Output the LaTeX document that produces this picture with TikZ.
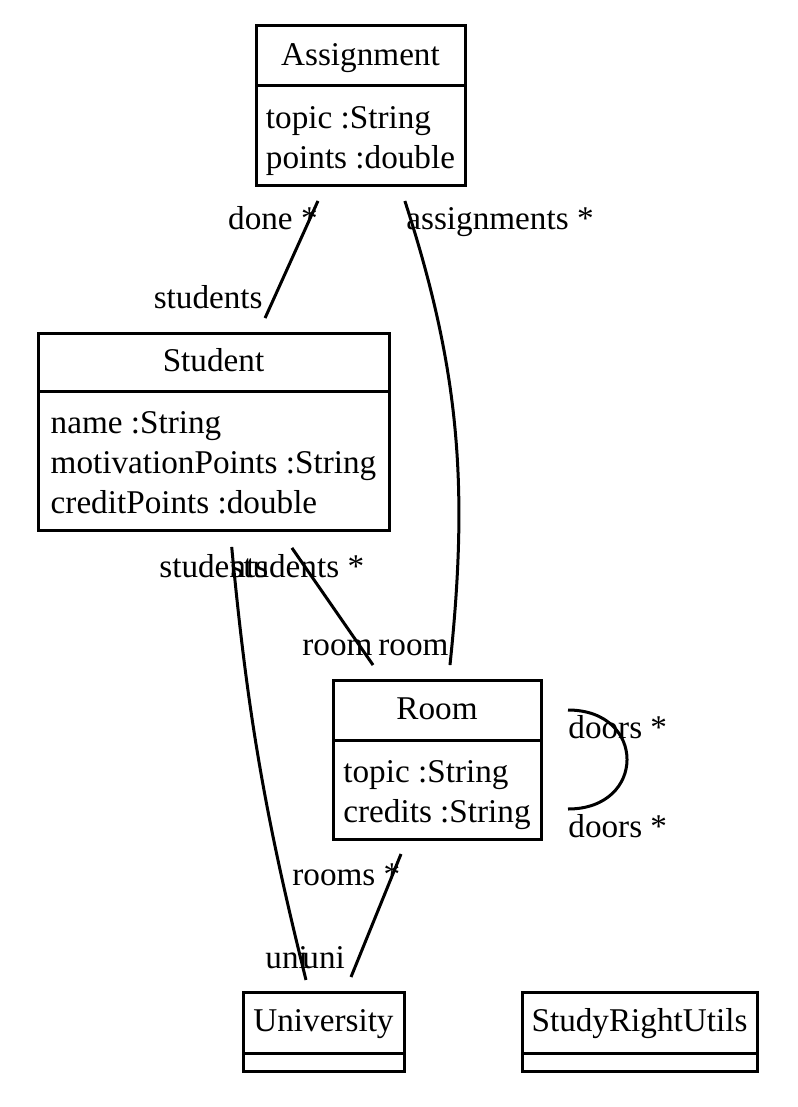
\documentclass[tikz,border=0pt]{standalone}
\usepackage{fontspec}
\setmainfont{Liberation Serif}
\usetikzlibrary{positioning}

\newcommand{\classtop}{\rule{0pt}{16.3pt}}
\newcommand{\classbot}{\rule[-3.7pt]{0pt}{3.7pt}}

\tikzset{
  classhead/.style={draw, line width=1.5pt, inner sep=0pt, outer sep=0pt, text height=11.3pt, text depth=2pt},
  classbody/.style={draw, line width=1.5pt, inner sep=0pt, outer sep=0pt, align=left},
  rolename/.style={inner sep=0pt},
  assoc/.style={line width=1.5pt},
}

\begin{document}
\begin{tikzpicture}[x=0.5pt, y=-0.5pt, font=\fontsize{16.6}{20}\selectfont]

\useasboundingbox (0,0) rectangle (797,1107);

% Classes
\node[classhead, minimum width=104.5pt, minimum height=30pt] (assignT) at (360.5,56) {Assignment};
\node[classbody, minimum width=104.5pt, minimum height=50pt, below=0pt of assignT] (assign) {\classtop topic :String\\points :double\classbot};

\node[classhead, minimum width=175.5pt, minimum height=29pt] (studT) at (213.5,362) {Student};
\node[classbody, minimum width=175.5pt, minimum height=69.5pt, below=0pt of studT] (stud) {\classtop name :String\\motivationPoints :String\\creditPoints :double\classbot};

\node[classhead, minimum width=104pt, minimum height=30pt] (roomT) at (437,710) {Room};
\node[classbody, minimum width=104pt, minimum height=49.5pt, below=0pt of roomT] (room) {\classtop topic :String\\credits :String\classbot};

\node[classhead, minimum width=80.5pt, minimum height=30.5pt] (univT) at (323.5,1022.5) {University};
\node[classbody, minimum width=80.5pt, minimum height=9pt, below=0pt of univT] (univ) {};

\node[classhead, minimum width=117.5pt, minimum height=30.5pt] (utilsT) at (639.5,1022.5) {StudyRightUtils};
\node[classbody, minimum width=117.5pt, minimum height=9pt, below=0pt of utilsT] (utils) {};

% Associations
\draw[assoc, shorten <=8.2pt, shorten >=8.2pt] ([xshift=-17.9pt]assign.south) -- ([xshift=22.4pt]studT.north);
\draw[assoc, shorten <=7.9pt, shorten >=7.5pt] ([xshift=19.75pt]assign.south) to[out=-72, in=84] ([xshift=5.7pt]roomT.north);
\draw[assoc, shorten <=10.9pt, shorten >=9.1pt] ([xshift=33pt]stud.south) -- ([xshift=-26.8pt]roomT.north);
\draw[assoc, shorten <=8.5pt, shorten >=6.2pt] ([xshift=8.3pt]stud.south) to[out=-84.6, in=104] ([xshift=-7.25pt]univT.north);
\draw[assoc, shorten <=8.1pt, shorten >=8.1pt] ([xshift=-14.95pt]room.south) -- ([xshift=10.7pt]univT.north);
\draw[assoc, shorten <=13.5pt, shorten >=13.5pt] (roomT.east) .. controls +(52.85pt,0pt) and +(52.85pt,0pt) .. ([yshift=-9.75pt]room.east);

% Role names
\node[rolename, anchor=base east] (doneL) at (318,229) {done *};
\node[rolename, anchor=base east] (studentsA) at (263,308) {students};
\node[rolename, anchor=base west] (assignmentsL) at (406,229) {assignments *};
\node[rolename, anchor=base west] (studentsU) at (159,577) {students};
\node[rolename, anchor=base west] (studentsR) at (230,577) {students *};
\node[rolename, anchor=base west] (roomS) at (302,655) {room};
\node[rolename, anchor=base west] (roomA) at (378,655) {room};
\node[rolename, anchor=base west] (doorsA) at (568,738) {doors *};
\node[rolename, anchor=base west] (doorsB) at (568,837) {doors *};
\node[rolename, anchor=base west] (roomsL) at (292,885) {rooms *};
\node[rolename, anchor=base west] (uniS) at (265,968) {uni};
\node[rolename, anchor=base west] (uniR) at (302,968) {uni};

\end{tikzpicture}
\end{document}
